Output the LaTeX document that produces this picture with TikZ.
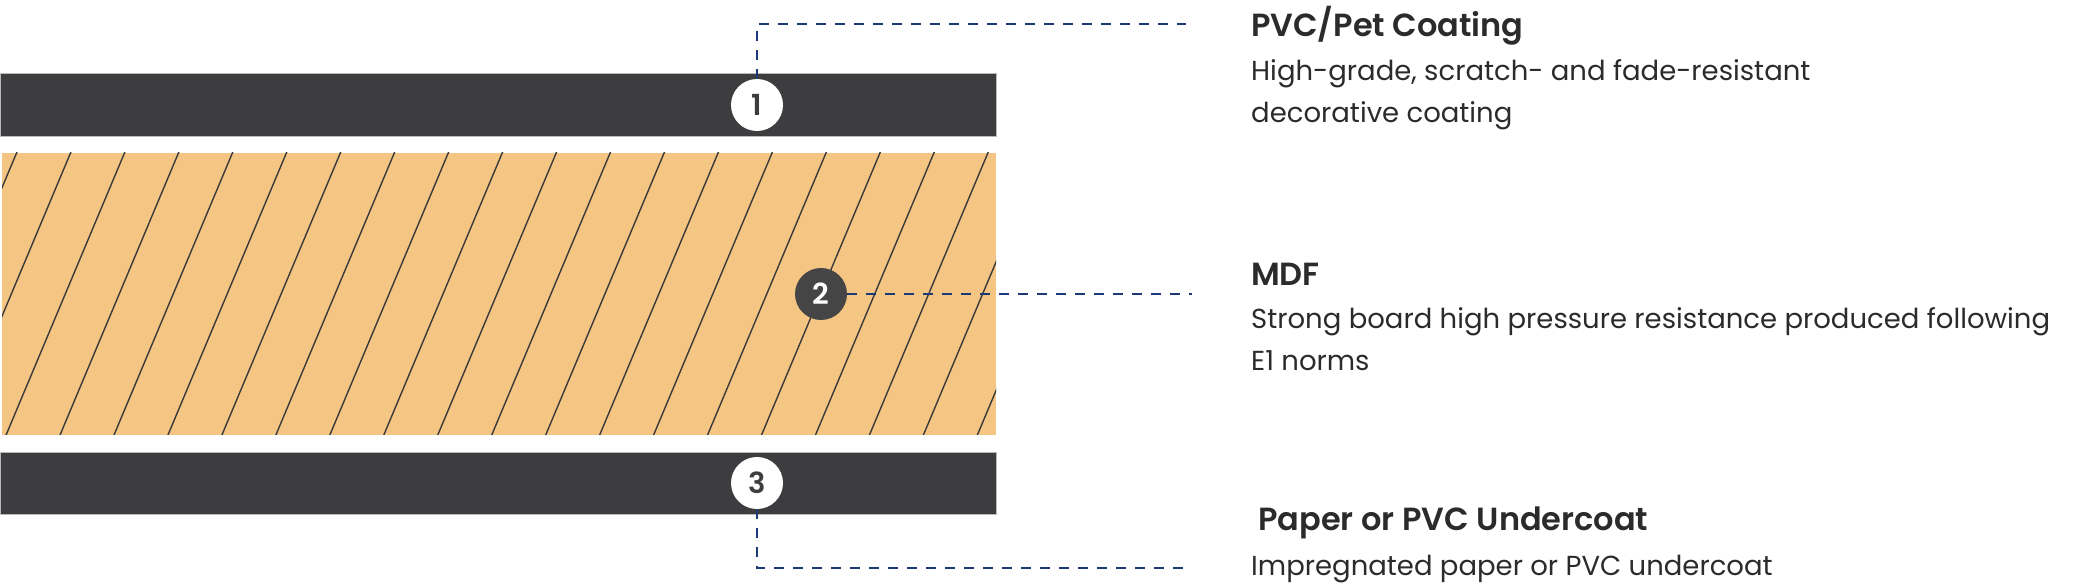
\documentclass[tikz,border=0pt]{standalone}
\usepackage{fontspec}
\setmainfont{Poppins}[BoldFont={Poppins SemiBold}]
\usetikzlibrary{positioning}
\definecolor{layerDark}{HTML}{3D3D3F}
\definecolor{mdfOrange}{HTML}{F5C683}
\definecolor{hatchGray}{HTML}{3A3A3A}
\definecolor{leaderBlue}{HTML}{1C3A78}
\definecolor{textDark}{HTML}{2B2B2B}
\definecolor{badgeDark}{HTML}{454545}

\begin{document}
\begin{tikzpicture}[x=1pt, y=-1pt,
    layer/.style={fill=layerDark, draw=gray!55, line width=0.8pt},
    badge/.style={
      circle, fill=white, text=layerDark, minimum size=52pt, inner sep=0pt,
      font=\fontsize{29}{29}\selectfont\bfseries
    },
    badgedark/.style={badge, fill=badgeDark, text=white},
    leader/.style={leaderBlue, line width=2pt, dash pattern=on 10pt off 9pt},
    hatch/.style={hatchGray, line width=1.4pt},
    heading/.style={anchor=base west, inner sep=0pt, text=textDark,
      font=\fontsize{32}{32}\selectfont\bfseries},
    body/.style={anchor=base west, inner sep=0pt, text=textDark, align=left,
      font=\fontsize{27.5}{42}\selectfont},
  ]
    \useasboundingbox (0,0) rectangle (2078,588);

    % Layers
    \draw[layer] (0,73) rectangle (996,136.5);
    \fill[mdfOrange] (2,152.7) rectangle (996,434.5);
    \begin{scope}
      \clip (2,152.7) rectangle (996,434.5);
      \foreach \k in {0,...,21} {
        \draw[hatch] ({17.9+53.96*\k},149.8) -- ({-102.8+53.96*\k},437.3);
      }
    \end{scope}
    \draw[layer] (0,452) rectangle (996,514);

    % Badges
    \node[badge] (c1) at (757,105) {1};
    \node[badgedark] (c2) at (821,294) {2};
    \node[badge] (c3) at (757,483) {3};

    % Leaders
    \coordinate (e1) at (1186,24);
    \coordinate (e2) at (1192,294);
    \coordinate (e3) at (1186,568);
    \draw[leader] (c1.north) |- (e1);
    \draw[leader] (c2.east) -- (e2);
    \draw[leader] (c3.south) |- (e3);

    % Labels (multi-line texts sit on the baseline of their last line)
    \node[heading] (h1) at (1251,37) {PVC/Pet Coating};
    \node[body] (d1) at (1251,123) {High-grade, scratch- and fade-resistant\\decorative coating};
    \node[heading] (h2) at (1251,285) {MDF};
    \node[body] (d2) at (1251,370) {Strong board high pressure resistance produced following\\E1 norms};
    \node[heading] (h3) at (1258,530) {Paper or PVC Undercoat};
    \node[body] (d3) at (1251,575) {Impregnated paper or PVC undercoat};
  \end{tikzpicture}
\end{document}
